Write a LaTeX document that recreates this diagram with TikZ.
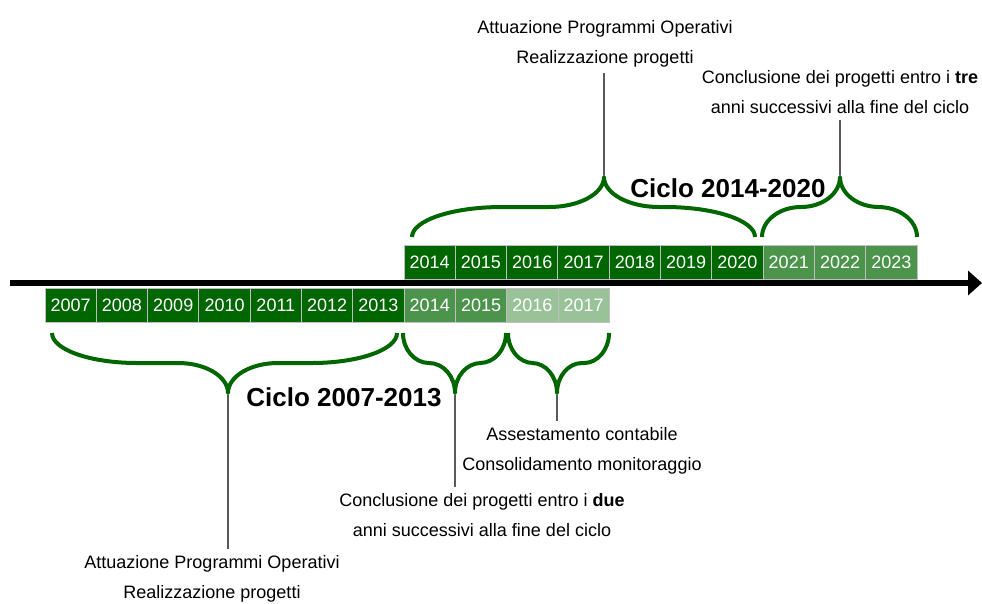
\documentclass[tikz,border=0pt]{standalone}
\usepackage{fontspec}
\setmainfont{Liberation Sans}
\usetikzlibrary{arrows.meta, positioning, calc}
\definecolor{dkgreen}{RGB}{0,102,0}

% curly brace: xa, xb, x of tip, y of ends, y of tip, end radius, tip radius
\newcommand{\cbrace}[7]{%
  \pgfmathsetmacro\bym{(#4+#5)/2}%
  \draw[brace] (#1,#4) .. controls (#1,{#4+0.552*(\bym-#4)}) and ({#1+0.448*#6},\bym) .. ({#1+#6},\bym)
    -- ({#3-#7},\bym) .. controls ({#3-0.448*#7},\bym) and (#3,{#5-0.552*(#5-\bym)}) .. (#3,#5)
    .. controls (#3,{#5-0.552*(#5-\bym)}) and ({#3+0.448*#7},\bym) .. ({#3+#7},\bym)
    -- ({#2-#6},\bym) .. controls ({#2-0.448*#6},\bym) and (#2,{#4+0.552*(\bym-#4)}) .. (#2,#4);
}

\begin{document}
\begin{tikzpicture}[
    x=1pt, y=-1pt,
    font=\fontsize{18}{30}\selectfont,
    node distance=0pt,
    yr/.style={draw=gray!50, line width=1pt, fill=dkgreen, text=white, minimum width=51.3pt, minimum height=34pt, inner sep=0pt, outer sep=0pt},
    yrmid/.style={yr, fill=dkgreen!70},
    yrlight/.style={yr, fill=dkgreen!40},
    note/.style={align=center, inner sep=6pt},
    ciclo/.style={font=\fontsize{26}{30}\selectfont\bfseries},
    brace/.style={draw=dkgreen, line width=4pt, line join=round},
    lead/.style={draw=black!65, line width=1.2pt},
    axis/.style={line width=6pt, -{Triangle[length=14pt,width=24pt]}}
]
\useasboundingbox (0,0) rectangle (982,603);

% Time axis
\coordinate (ax0) at (10,283);
\coordinate (ax1) at (982,283);
\draw[axis] (ax0) -- (ax1);

% Lower row (ciclo 2007-2013)
\node[yr, anchor=west] (l07) at (45,305) {2007};
\node[yr, right=of l07] (l08) {2008};
\node[yr, right=of l08] (l09) {2009};
\node[yr, right=of l09] (l10) {2010};
\node[yr, right=of l10] (l11) {2011};
\node[yr, right=of l11] (l12) {2012};
\node[yr, right=of l12] (l13) {2013};
\node[yrmid, right=of l13] (l14) {2014};
\node[yrmid, right=of l14] (l15) {2015};
\node[yrlight, right=of l15] (l16) {2016};
\node[yrlight, right=of l16] (l17) {2017};

% Upper row (ciclo 2014-2020)
\node[yr, anchor=west] (u14) at (404,262) {2014};
\node[yr, right=of u14] (u15) {2015};
\node[yr, right=of u15] (u16) {2016};
\node[yr, right=of u16] (u17) {2017};
\node[yr, right=of u17] (u18) {2018};
\node[yr, right=of u18] (u19) {2019};
\node[yr, right=of u19] (u20) {2020};
\node[yrmid, right=of u20] (u21) {2021};
\node[yrmid, right=of u21] (u22) {2022};
\node[yrmid, right=of u22] (u23) {2023};

% Cycle labels
\node[ciclo] (c0713) at (344,397) {Ciclo 2007-2013};
\node[ciclo] (c1420) at (728,188) {Ciclo 2014-2020};

% Notes
\node[note, anchor=north] (attTop) at (605,14) {Attuazione Programmi Operativi\\Realizzazione progetti};
\node[note, anchor=north] (concTop) at (840,64) {Conclusione dei progetti entro i \textbf{tre}\\anni successivi alla fine del ciclo};
\node[note, anchor=north] (assBot) at (582,421) {Assestamento contabile\\Consolidamento monitoraggio};
\node[note, anchor=north] (concBot) at (482,487) {Conclusione dei progetti entro i \textbf{due}\\anni successivi alla fine del ciclo};
\node[note, anchor=north] (attBot) at (212,549) {Attuazione Programmi Operativi\\Realizzazione progetti};

% Brace tips
\coordinate (tipA) at (228,395);
\coordinate (tipB) at (455,395);
\coordinate (tipC) at (557,395);
\coordinate (tipD) at (604,175);
\coordinate (tipE) at (840,175);

% Leader lines
\draw[lead] (tipA) -- (tipA |- attBot.north);
\draw[lead] (tipB) -- (tipB |- concBot.north);
\draw[lead] (tipC) -- (tipC |- assBot.north);
\draw[lead] (tipD |- attTop.south) -- (tipD);
\draw[lead] (tipE |- concTop.south) -- (tipE);

% Braces
\cbrace{52}{397}{228}{333}{393}{85}{50}
\cbrace{403}{506}{455}{333}{393}{26}{26}
\cbrace{508}{609}{557}{333}{393}{25}{25}
\cbrace{412}{755}{604}{237}{177}{90}{55}
\cbrace{762}{917}{840}{237}{177}{39}{39}

\end{tikzpicture}
\end{document}
